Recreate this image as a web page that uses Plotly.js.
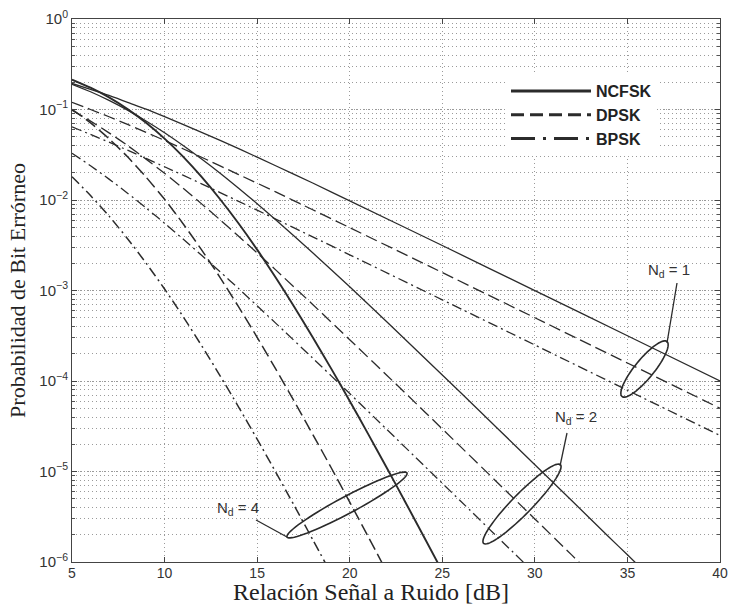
<!DOCTYPE html>
<html>
<head>
<meta charset="utf-8">
<script src="https://cdn.plot.ly/plotly-3.0.1.min.js"></script>
<style>html,body{margin:0;padding:0;background:#fff;}#chart{width:731px;height:605px;}</style>
</head>
<body>
<div id="chart"></div>
<script>
// ---------- data ----------
const snrNd1 = [5,6,7,8,9,10,12,14,16,18,20,25,30,35,40];
const ncfskNd1 = [0.194,0.167,0.143,0.120,0.101,0.0833,0.0560,0.0369,0.0239,0.0154,0.0098,0.00314,0.000998,0.000316,0.0001];
const dpskNd1  = [0.120,0.100,0.0832,0.0684,0.0559,0.0455,0.0297,0.0191,0.0123,0.0078,0.00495,0.00158,0.0005,0.000158,0.00005];
const bpskNd1  = [0.0642,0.0530,0.0435,0.0355,0.0288,0.0233,0.0151,0.00966,0.00616,0.00392,0.00248,0.000789,0.00025,0.000079,0.000025];

const snrNcfskNd2 = [5,6,7,8,9,10,11,12,13,14,15,16,18,20,22,24,26,28,30,32,34,35,36];
const ncfskNd2 = [0.190,0.157,0.126,0.0983,0.0747,0.0554,0.0401,0.0284,0.0198,0.0135,0.00911,0.00606,0.00261,0.00110,0.000451,0.000183,7.40e-5,2.97e-5,1.19e-5,4.75e-6,1.89e-6,1.20e-6,7.6e-7];
const snrDpskNd2 = [5,6,7,8,9,10,11,12,13,14,15,16,18,20,22,24,26,28,30,32,33];
const dpskNd2 = [0.0980,0.0745,0.0552,0.0400,0.0283,0.0197,0.0135,0.00906,0.00604,0.00398,0.00260,0.00169,0.000701,0.000286,0.000116,4.67e-5,1.87e-5,7.48e-6,2.99e-6,1.19e-6,7.5e-7];
const snrBpskNd2 = [5,6,7,8,9,10,11,12,13,14,15,16,18,20,22,24,26,28,30];
const bpskNd2 = [0.0329,0.0239,0.0170,0.0119,0.00816,0.00553,0.00370,0.00245,0.00161,0.00105,0.000677,0.000436,0.000179,7.26e-5,2.92e-5,1.17e-5,4.69e-6,1.87e-6,7.5e-7];

const snrNcfskNd4 = [5,6,7,8,9,10,11,12,13,14,15,16,17,18,19,20,21,22,23,24,25];
const ncfskNd4 = [0.214,0.174,0.136,0.101,0.0714,0.0477,0.0302,0.0180,0.0102,0.00550,0.00283,0.00139,0.000663,0.000305,0.000137,6.02e-5,2.59e-5,1.10e-5,4.61e-6,1.91e-6,7.9e-7];
const snrDpskNd4 = [5,6,7,8,9,10,11,12,13,14,15,16,17,18,19,20,21,22];
const dpskNd4 = [0.1006,0.0711,0.0475,0.0300,0.0179,0.0102,0.00547,0.00281,0.00139,0.000659,0.000304,0.000136,5.99e-5,2.58e-5,1.10e-5,4.59e-6,1.90e-6,7.8e-7];
const snrBpskNd4 = [5,6,7,8,9,10,11,12,13,14,15,16,17,18,19];
const bpskNd4 = [0.0181,0.0112,0.00664,0.00374,0.00201,0.00104,0.000515,0.000246,0.000114,5.16e-5,2.28e-5,9.87e-6,4.21e-6,1.77e-6,7.4e-7];

const legendNames = ['NCFSK','DPSK','BPSK'];
const yTickVals = [1e-6,1e-5,1e-4,1e-3,1e-2,1e-1,1];
const yTickText = ['10<sup>−6</sup>','10<sup>−5</sup>','10<sup>−4</sup>','10<sup>−3</sup>','10<sup>−2</sup>','10<sup>−1</sup>','10<sup>0</sup>'];
const xTickVals = [5,10,15,20,25,30,35,40];
const ndLabels = ['N<sub>d</sub> = 1','N<sub>d</sub> = 2','N<sub>d</sub> = 4'];
const xTitle = 'Relación Señal a Ruido [dB]';
const yTitle = 'Probabilidad de Bit Errórneo';

// ---------- styles ----------
const INK = '#2b2b2b';
const DASH = '12px,5px';
const DASHDOT = '10px,4px,2px,4px';
function curve(x, y, dash, w) {
  return {x: x, y: y, type: 'scatter', mode: 'lines', showlegend: false, hoverinfo: 'skip',
          line: {color: INK, width: w || 1.3, dash: dash, shape: 'spline', smoothing: 0.6}};
}
const traces = [
  curve(snrNd1, ncfskNd1, 'solid'),
  curve(snrNd1, dpskNd1, DASH),
  curve(snrNd1, bpskNd1, DASHDOT),
  curve(snrNcfskNd2, ncfskNd2, 'solid'),
  curve(snrDpskNd2, dpskNd2, DASH),
  curve(snrBpskNd2, bpskNd2, DASHDOT),
  curve(snrNcfskNd4, ncfskNd4, 'solid', 1.9),
  curve(snrDpskNd4, dpskNd4, DASH, 1.5),
  curve(snrBpskNd4, bpskNd4, DASHDOT, 1.5)
];
const legendDash = ['solid','13px,6px','24px,8px,3px,8px'];
legendNames.forEach(function(n, i){
  traces.push({x: [null], y: [null], type: 'scatter', mode: 'lines', name: n, showlegend: true,
               line: {color: INK, width: 3, dash: legendDash[i]}});
});

// ---------- annotation geometry (pixel -> paper) ----------
const L = 72, R = 720, T = 19, B = 562;
function px(xp){ return (xp - L) / (R - L); }
function py(yp){ return (B - yp) / (B - T); }
function ellipse(cx, cy, a, b, deg) {
  const th = deg * Math.PI / 180; let d = '';
  for (let k = 0; k <= 72; k++) {
    const t = 2 * Math.PI * k / 72;
    const X = cx + a * Math.cos(th) * Math.cos(t) - b * Math.sin(th) * Math.sin(t);
    const Y = cy + a * Math.sin(th) * Math.cos(t) + b * Math.cos(th) * Math.sin(t);
    d += (k === 0 ? 'M' : 'L') + px(X).toFixed(5) + ',' + py(Y).toFixed(5);
  }
  return {type: 'path', xref: 'paper', yref: 'paper', path: d + 'Z', line: {color: INK, width: 1.6}};
}
function seg(x0, y0, x1, y1) {
  return {type: 'line', xref: 'paper', yref: 'paper', x0: px(x0), y0: py(y0), x1: px(x1), y1: py(y1),
          line: {color: INK, width: 1.3}};
}
const shapes = [
  ellipse(644.5, 369, 35.5, 9.5, -50.7),
  seg(667, 343, 677, 283),
  ellipse(522, 504, 55, 10, -45.7),
  seg(560, 466, 567, 433),
  ellipse(347, 505, 68, 8.5, -28.1),
  seg(287, 537, 256, 520)
];
const annFont = {family: 'Liberation Sans, Arial, sans-serif', size: 15, color: '#333'};
function label(t, x, y) {
  return {xref: 'paper', yref: 'paper', x: px(x), y: py(y), xanchor: 'center', yanchor: 'middle',
          text: t, showarrow: false, font: annFont};
}
const annotations = [
  label(ndLabels[0], 669, 270),
  label(ndLabels[1], 576, 417),
  label(ndLabels[2], 238, 508),
  {xref: 'paper', yref: 'paper', x: px(371), y: py(606), xanchor: 'center', yanchor: 'bottom', borderpad: 0,
   text: xTitle, showarrow: false, font: {family: 'Liberation Serif, Times New Roman, serif', size: 24, color: '#222'}}
];

const tickFont = {family: 'Liberation Sans, Arial, sans-serif', size: 14, color: '#333'};
const GRID = '#9a9a9a';

const layout = {
  width: 731, height: 605,
  margin: {l: L, r: 731 - R, t: T, b: 605 - B},
  paper_bgcolor: '#fff', plot_bgcolor: '#fff',
  showlegend: true,
  legend: {x: px(506), y: py(74), xanchor: 'left', yanchor: 'top', bgcolor: '#fff', borderwidth: 0,
           itemwidth: 80, font: {family: 'Liberation Sans, Arial, sans-serif', size: 16, color: '#222', weight: 'bold'}},
  xaxis: {range: [5, 40], tickvals: xTickVals, ticks: 'inside', ticklen: 5, tickcolor: '#444',
          showline: true, linecolor: '#444', linewidth: 1, mirror: 'allticks', zeroline: false,
          showgrid: true, gridcolor: GRID, griddash: '1px,3px', gridwidth: 1,
          tickfont: tickFont, ticklabelstandoff: -2, automargin: false},
  yaxis: {type: 'log', range: [-6, 0], tickvals: yTickVals, ticktext: yTickText, ticks: 'inside', ticklen: 5, tickcolor: '#444',
          showline: true, linecolor: '#444', linewidth: 1, mirror: 'allticks', zeroline: false,
          showgrid: true, gridcolor: GRID, griddash: '1px,2px', gridwidth: 1,
          minor: {dtick: 'D1', showgrid: true, gridcolor: GRID, griddash: '1px,3px', ticks: 'inside', ticklen: 3, tickcolor: '#555'},
          tickfont: {family: 'Liberation Sans, Arial, sans-serif', size: 15, color: '#333'}, automargin: false,
          title: {text: yTitle, font: {family: 'Liberation Serif, Times New Roman, serif', size: 22, color: '#222'}, standoff: 7}},
  shapes: shapes,
  annotations: annotations
};

Plotly.newPlot('chart', traces, layout, {displayModeBar: false, staticPlot: true});
</script>
</body>
</html>
